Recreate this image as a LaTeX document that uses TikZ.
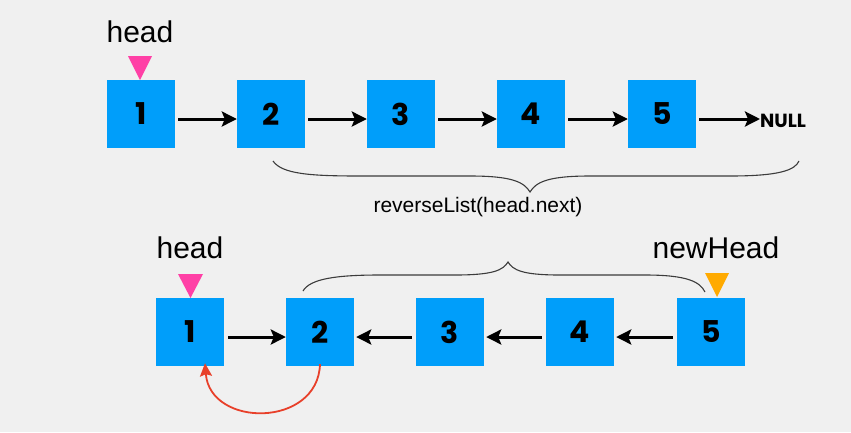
\documentclass[tikz,border=0pt]{standalone}
\usepackage{fontspec}
\setmainfont{Liberation Sans}
\newfontfamily\numfont{Poppins}
\usetikzlibrary{arrows.meta,positioning,shapes.geometric}
\definecolor{bg}{RGB}{240,240,240}
\definecolor{boxblue}{RGB}{0,158,250}
\definecolor{pinktri}{RGB}{255,64,166}
\definecolor{orangetri}{RGB}{255,170,0}
\definecolor{redarc}{RGB}{232,64,42}
\definecolor{bracegray}{RGB}{60,60,60}
\tikzset{
  listbox/.style={fill=boxblue, draw=none, minimum width=68pt, minimum height=68pt, inner sep=0pt,
    font=\numfont\bfseries\fontsize{30}{30}\selectfont},
  ptr/.style={line width=3pt, black, -{Stealth[length=15pt,width=15pt,inset=3pt]}},
  lbl/.style={font=\fontsize{30}{30}\selectfont, inner sep=0pt, anchor=base},
  bracepath/.style={bracegray, line width=1.1pt},
}
\begin{document}
\begin{tikzpicture}[x=1pt,y=-1pt]
\useasboundingbox (0,0) rectangle (851,432);
\fill[bg] (0,0) rectangle (851,432);

% top row
\foreach \i/\x in {1/141,2/271,3/401,4/531,5/662}{
  \node[listbox] (t\i) at (\x,114) {\i};
}
\node[font=\numfont\bfseries\fontsize{19}{19}\selectfont, inner sep=0pt, anchor=west] (null) at (760,121) {NULL};
\foreach \a/\b in {t1/t2,t2/t3,t3/t4,t4/t5}{
  \draw[ptr] ([xshift=3pt,yshift=-5pt]\a.east) -- ([yshift=-5pt]\b.west);
}
\draw[ptr] ([xshift=3pt,yshift=-5pt]t5.east) -- (null.west |- 0,119);

\node[lbl] (headA) at (140,42) {head};
\fill[pinktri] (128,56) -- (152,56) -- (140,80) -- cycle;

% top brace
\draw[bracepath] (273,161) .. controls (282,174) and (310,176) .. (360,176)
  -- (470,176) .. controls (512,176) and (524,182) .. (530,192)
  .. controls (536,182) and (548,176) .. (590,176)
  -- (730,176) .. controls (780,176) and (795,170) .. (799,161);
\node[font=\fontsize{21}{21}\selectfont, inner sep=0pt] (rev) at (478,207) {reverseList(head.next)};

% bottom row
\foreach \i/\x in {1/190,2/320,3/450,4/580,5/711}{
  \node[listbox] (b\i) at (\x,332) {\i};
}
\draw[ptr] ([xshift=4pt,yshift=-5pt]b1.east) -- ([yshift=-5pt]b2.west);
\foreach \a/\b in {b3/b2,b4/b3,b5/b4}{
  \draw[ptr] ([xshift=-4pt,yshift=-5pt]\a.west) -- ([xshift=2pt,yshift=-5pt]\b.east);
}

\node[lbl] (headB) at (190,258) {head};
\fill[pinktri] (178,274) -- (203,274) -- (190.5,298) -- cycle;
\node[lbl] (newhead) at (716,258) {newHead};
\fill[orangetri] (705,273) -- (729,273) -- (717,297) -- cycle;

% bottom brace
\draw[bracepath] (303,291) .. controls (310,279) and (335,275) .. (380,275)
  -- (455,275) .. controls (494,275) and (503,270) .. (508,262)
  .. controls (513,270) and (522,275) .. (560,275)
  -- (645,275) .. controls (688,275) and (700,282) .. (705,292);

% red arc
\draw[redarc, line width=1.8pt, -{Stealth[length=13pt,width=12pt,inset=2pt]}]
  ([yshift=2pt]b2.south) .. controls (318,428) and (210,428) .. ([xshift=15pt,yshift=3pt]b1.south);
\end{tikzpicture}
\end{document}
